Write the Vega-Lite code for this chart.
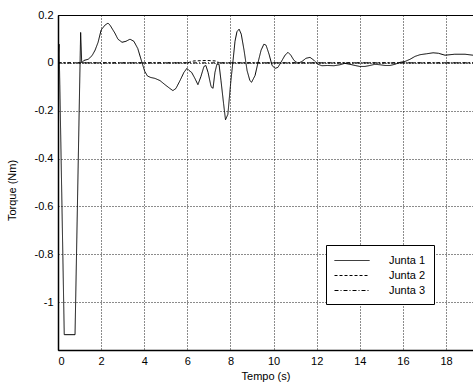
{
  "$schema": "https://vega.github.io/schema/vega-lite/v6.json",
  "width": 415,
  "height": 335,
  "autosize": {"type": "none"},
  "padding": {"left": 58, "top": 15, "right": 0, "bottom": 33},
  "background": "white",
  "config": {
    "font": "Liberation Sans",
    "view": {"stroke": "black", "strokeWidth": 1},
    "axis": {
      "labelFont": "Liberation Sans",
      "titleFont": "Liberation Sans",
      "labelFontSize": 11,
      "titleFontSize": 11,
      "titleFontWeight": "normal",
      "labelColor": "black",
      "titleColor": "black",
      "grid": true,
      "gridColor": "black",
      "gridDash": [1, 2],
      "gridOpacity": 0.9,
      "gridWidth": 1,
      "domainColor": "black",
      "domainWidth": 1.5,
      "ticks": false,
      "labelPadding": 5
    }
  },
  "data": {
    "values": [
      {"t": 0, "v": 0, "s": "Junta 1"},
      {"t": 0.05, "v": 0.078, "s": "Junta 1"},
      {"t": 0.29, "v": -1.136, "s": "Junta 1"},
      {"t": 0.79, "v": -1.136, "s": "Junta 1"},
      {"t": 1.05, "v": 0.127, "s": "Junta 1"},
      {"t": 1.1, "v": 0.0, "s": "Junta 1"},
      {"t": 1.2, "v": 0.01, "s": "Junta 1"},
      {"t": 1.4, "v": 0.015, "s": "Junta 1"},
      {"t": 1.58, "v": 0.03, "s": "Junta 1"},
      {"t": 1.72, "v": 0.053, "s": "Junta 1"},
      {"t": 1.86, "v": 0.086, "s": "Junta 1"},
      {"t": 2.0, "v": 0.137, "s": "Junta 1"},
      {"t": 2.18, "v": 0.158, "s": "Junta 1"},
      {"t": 2.32, "v": 0.166, "s": "Junta 1"},
      {"t": 2.41, "v": 0.158, "s": "Junta 1"},
      {"t": 2.64, "v": 0.124, "s": "Junta 1"},
      {"t": 2.78, "v": 0.099, "s": "Junta 1"},
      {"t": 2.97, "v": 0.086, "s": "Junta 1"},
      {"t": 3.15, "v": 0.09, "s": "Junta 1"},
      {"t": 3.34, "v": 0.099, "s": "Junta 1"},
      {"t": 3.52, "v": 0.09, "s": "Junta 1"},
      {"t": 3.7, "v": 0.06, "s": "Junta 1"},
      {"t": 3.9, "v": 0.0, "s": "Junta 1"},
      {"t": 4.02, "v": -0.035, "s": "Junta 1"},
      {"t": 4.15, "v": -0.055, "s": "Junta 1"},
      {"t": 4.3, "v": -0.061, "s": "Junta 1"},
      {"t": 4.5, "v": -0.065, "s": "Junta 1"},
      {"t": 4.73, "v": -0.074, "s": "Junta 1"},
      {"t": 4.96, "v": -0.091, "s": "Junta 1"},
      {"t": 5.19, "v": -0.107, "s": "Junta 1"},
      {"t": 5.33, "v": -0.116, "s": "Junta 1"},
      {"t": 5.47, "v": -0.107, "s": "Junta 1"},
      {"t": 5.66, "v": -0.074, "s": "Junta 1"},
      {"t": 5.84, "v": -0.04, "s": "Junta 1"},
      {"t": 5.98, "v": -0.023, "s": "Junta 1"},
      {"t": 6.08, "v": -0.032, "s": "Junta 1"},
      {"t": 6.2, "v": -0.04, "s": "Junta 1"},
      {"t": 6.35, "v": -0.065, "s": "Junta 1"},
      {"t": 6.49, "v": -0.091, "s": "Junta 1"},
      {"t": 6.63, "v": -0.057, "s": "Junta 1"},
      {"t": 6.77, "v": -0.015, "s": "Junta 1"},
      {"t": 6.86, "v": -0.011, "s": "Junta 1"},
      {"t": 6.96, "v": -0.04, "s": "Junta 1"},
      {"t": 7.1, "v": -0.099, "s": "Junta 1"},
      {"t": 7.19, "v": -0.107, "s": "Junta 1"},
      {"t": 7.28, "v": -0.04, "s": "Junta 1"},
      {"t": 7.37, "v": -0.006, "s": "Junta 1"},
      {"t": 7.47, "v": -0.006, "s": "Junta 1"},
      {"t": 7.56, "v": -0.074, "s": "Junta 1"},
      {"t": 7.68, "v": -0.17, "s": "Junta 1"},
      {"t": 7.77, "v": -0.238, "s": "Junta 1"},
      {"t": 7.88, "v": -0.215, "s": "Junta 1"},
      {"t": 8.02, "v": -0.074, "s": "Junta 1"},
      {"t": 8.12, "v": 0.01, "s": "Junta 1"},
      {"t": 8.21, "v": 0.09, "s": "Junta 1"},
      {"t": 8.3, "v": 0.13, "s": "Junta 1"},
      {"t": 8.4, "v": 0.141, "s": "Junta 1"},
      {"t": 8.5, "v": 0.12, "s": "Junta 1"},
      {"t": 8.63, "v": 0.053, "s": "Junta 1"},
      {"t": 8.77, "v": -0.032, "s": "Junta 1"},
      {"t": 8.9, "v": -0.074, "s": "Junta 1"},
      {"t": 8.98, "v": -0.081, "s": "Junta 1"},
      {"t": 9.14, "v": -0.053, "s": "Junta 1"},
      {"t": 9.28, "v": 0.002, "s": "Junta 1"},
      {"t": 9.42, "v": 0.053, "s": "Junta 1"},
      {"t": 9.55, "v": 0.078, "s": "Junta 1"},
      {"t": 9.65, "v": 0.074, "s": "Junta 1"},
      {"t": 9.79, "v": 0.036, "s": "Junta 1"},
      {"t": 9.93, "v": -0.011, "s": "Junta 1"},
      {"t": 10.07, "v": -0.023, "s": "Junta 1"},
      {"t": 10.2, "v": -0.019, "s": "Junta 1"},
      {"t": 10.34, "v": 0.002, "s": "Junta 1"},
      {"t": 10.53, "v": 0.032, "s": "Junta 1"},
      {"t": 10.67, "v": 0.044, "s": "Junta 1"},
      {"t": 10.8, "v": 0.032, "s": "Junta 1"},
      {"t": 10.94, "v": 0.011, "s": "Junta 1"},
      {"t": 11.13, "v": -0.002, "s": "Junta 1"},
      {"t": 11.32, "v": 0.006, "s": "Junta 1"},
      {"t": 11.5, "v": 0.019, "s": "Junta 1"},
      {"t": 11.69, "v": 0.023, "s": "Junta 1"},
      {"t": 11.87, "v": 0.011, "s": "Junta 1"},
      {"t": 12.06, "v": -0.006, "s": "Junta 1"},
      {"t": 12.24, "v": -0.012, "s": "Junta 1"},
      {"t": 12.5, "v": -0.011, "s": "Junta 1"},
      {"t": 12.8, "v": -0.012, "s": "Junta 1"},
      {"t": 13.08, "v": -0.008, "s": "Junta 1"},
      {"t": 13.3, "v": -0.002, "s": "Junta 1"},
      {"t": 13.54, "v": -0.006, "s": "Junta 1"},
      {"t": 13.78, "v": -0.011, "s": "Junta 1"},
      {"t": 14.0, "v": -0.015, "s": "Junta 1"},
      {"t": 14.24, "v": -0.015, "s": "Junta 1"},
      {"t": 14.47, "v": -0.011, "s": "Junta 1"},
      {"t": 14.7, "v": -0.006, "s": "Junta 1"},
      {"t": 14.94, "v": -0.008, "s": "Junta 1"},
      {"t": 15.17, "v": -0.011, "s": "Junta 1"},
      {"t": 15.4, "v": -0.011, "s": "Junta 1"},
      {"t": 15.63, "v": -0.006, "s": "Junta 1"},
      {"t": 15.86, "v": 0.002, "s": "Junta 1"},
      {"t": 16.1, "v": 0.006, "s": "Junta 1"},
      {"t": 16.33, "v": 0.015, "s": "Junta 1"},
      {"t": 16.56, "v": 0.027, "s": "Junta 1"},
      {"t": 16.79, "v": 0.034, "s": "Junta 1"},
      {"t": 17.1, "v": 0.038, "s": "Junta 1"},
      {"t": 17.4, "v": 0.042, "s": "Junta 1"},
      {"t": 17.65, "v": 0.04, "s": "Junta 1"},
      {"t": 17.95, "v": 0.032, "s": "Junta 1"},
      {"t": 18.4, "v": 0.036, "s": "Junta 1"},
      {"t": 18.88, "v": 0.036, "s": "Junta 1"},
      {"t": 19.25, "v": 0.032, "s": "Junta 1"},
      {"t": 0, "v": 0, "s": "Junta 2"},
      {"t": 6.0, "v": 0, "s": "Junta 2"},
      {"t": 6.3, "v": 0.008, "s": "Junta 2"},
      {"t": 6.9, "v": 0.01, "s": "Junta 2"},
      {"t": 7.3, "v": 0.008, "s": "Junta 2"},
      {"t": 7.5, "v": 0, "s": "Junta 2"},
      {"t": 19.25, "v": 0, "s": "Junta 2"},
      {"t": 0, "v": 0, "s": "Junta 3"},
      {"t": 19.25, "v": 0, "s": "Junta 3"}
    ]
  },
  "mark": {"type": "line", "color": "black", "strokeWidth": 1, "clip": true},
  "encoding": {
    "x": {
      "field": "t",
      "type": "quantitative",
      "scale": {"domain": [0, 19.25], "nice": false, "zero": false},
      "axis": {"values": [0, 2, 4, 6, 8, 10, 12, 14, 16, 18], "title": "Tempo (s)", "titlePadding": 4}
    },
    "y": {
      "field": "v",
      "type": "quantitative",
      "scale": {"domain": [-1.2, 0.2], "nice": false, "zero": false},
      "axis": {
        "values": [0.2, 0, -0.2, -0.4, -0.6, -0.8, -1],
        "labelExpr": "'' + datum.value",
        "title": "Torque (Nm)",
        "titleX": -46,
        "titleY": 175,
        "titleAlign": "center",
        "titleBaseline": "middle",
        "titleAngle": -90
      }
    },
    "strokeDash": {
      "field": "s",
      "type": "nominal",
      "scale": {"domain": ["Junta 1", "Junta 2", "Junta 3"], "range": [[1, 0], [3, 2], [4, 2, 1, 2]]},
      "legend": {
        "title": null,
        "orient": "none",
        "legendX": 268,
        "legendY": 230,
        "fillColor": "white",
        "strokeColor": "black",
        "padding": 8,
        "symbolType": "M-1,0H4",
        "symbolSize": 196,
        "symbolStrokeColor": "black",
        "symbolFillColor": "transparent",
        "symbolStrokeWidth": 1,
        "labelFont": "Liberation Sans",
        "labelFontSize": 11,
        "labelColor": "black",
        "labelOffset": 40,
        "rowPadding": 2
      }
    },
    "order": {"field": "t", "type": "quantitative"}
  }
}
